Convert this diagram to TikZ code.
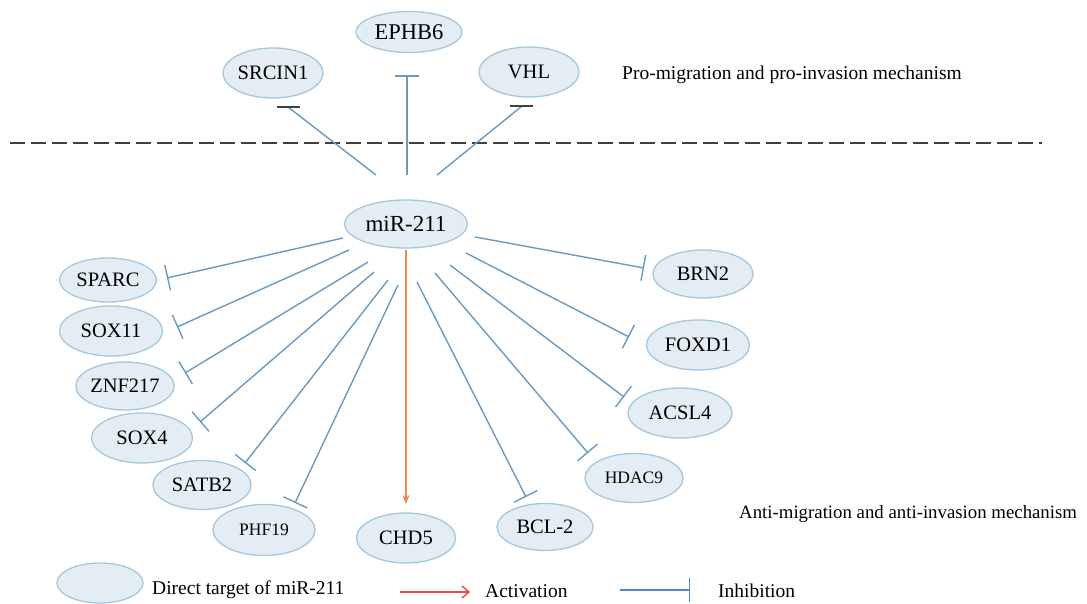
\documentclass[tikz,border=0pt]{standalone}
\usepackage{fontspec}
\setmainfont{Liberation Serif}
\usetikzlibrary{shapes.geometric,arrows.meta,calc}
\definecolor{efill}{HTML}{E5EDF4}
\definecolor{edraw}{HTML}{A6C8DC}
\definecolor{lblue}{HTML}{6A9AC2}
\definecolor{orng}{HTML}{EE8A4A}
\definecolor{legred}{HTML}{E8484A}
\definecolor{legblue}{HTML}{4B8BCB}
\definecolor{dgray}{HTML}{404040}
\tikzset{
  gene/.style={ellipse, draw=edraw, fill=efill, line width=1.3pt, inner sep=0pt,
    minimum width=100pt, minimum height=48pt, font=\fontsize{20.5}{22}\selectfont},
  small/.style={font=\fontsize{17.5}{20}\selectfont},
  inh/.style={draw=lblue, line width=1.4pt, -{Bar[width=26pt]}},
  topline/.style={draw=lblue, line width=1.4pt},
  darkbar/.style={draw=dgray, line width=1.8pt},
  act/.style={draw=orng, line width=1.4pt, -{Stealth[length=9pt,width=7pt]}},
  lbl/.style={anchor=west, inner sep=0pt, font=\fontsize{19.5}{22}\selectfont}
}
\begin{document}
\begin{tikzpicture}[x=1pt,y=-1pt]
\useasboundingbox (0,0) rectangle (1087,604);
\fill[white] (0,0) rectangle (1087,604);

% dashed separator
\coordinate (dl) at (10,143);
\coordinate (dr) at (1042,143);
\draw[dgray, line width=1.8pt, dash pattern=on 15pt off 6pt] (dl) -- (dr);

% nodes
\node[gene, minimum width=123pt, minimum height=48pt, font=\fontsize{23}{26}\selectfont] (mir) at (406,224) {miR-211};
\node[gene, minimum width=106pt, minimum height=41pt, font=\fontsize{22.5}{24}\selectfont] (ephb6) at (409,32) {EPHB6};
\node[gene, minimum height=50pt] (srcin1) at (273,73) {SRCIN1};
\node[gene, minimum height=50pt] (vhl) at (529,72) {VHL};

\node[gene, minimum width=97pt, minimum height=44pt] (sparc) at (108,280) {SPARC};
\node[gene, minimum width=103pt, minimum height=50pt] (sox11) at (111,331) {SOX11};
\node[gene, minimum width=97pt, minimum height=48pt] (znf) at (125,386) {ZNF217};
\node[gene, minimum width=101pt, minimum height=50pt] (sox4) at (142,438) {SOX4};
\node[gene, minimum width=98pt, minimum height=49pt] (satb2) at (202,485) {SATB2};
\node[gene, small, minimum width=102pt, minimum height=51pt] (phf19) at (264,530) {PHF19};
\node[gene, minimum width=99pt, minimum height=50pt] (chd5) at (406,538) {CHD5};
\node[gene, minimum width=96pt, minimum height=47pt] (bcl2) at (545,527) {BCL-2};
\node[gene, small, minimum width=98pt, minimum height=49pt] (hdac9) at (634,478) {HDAC9};
\node[gene, minimum width=104pt, minimum height=50pt] (acsl4) at (680,413) {ACSL4};
\node[gene, minimum width=103pt, minimum height=50pt] (foxd1) at (698,345) {FOXD1};
\node[gene, minimum width=100pt, minimum height=48pt] (brn2) at (703,274) {BRN2};

% top connectors
\coordinate (t1s) at (376,175); \coordinate (t1e) at (288,107);
\coordinate (t2s) at (407,175); \coordinate (t2e) at (407,76);
\coordinate (t3s) at (437,175); \coordinate (t3e) at (522,106);
\draw[topline] (t1s) -- (t1e);
\draw[darkbar] ($(t1e)+(-11,0)$) -- ($(t1e)+(12,0)$);
\draw[topline] (t2s) -- (t2e);
\draw[topline] ($(t2e)+(-12,0)$) -- ($(t2e)+(12,0)$);
\draw[topline] (t3s) -- (t3e);
\draw[darkbar] ($(t3e)+(-12,0)$) -- ($(t3e)+(11,0)$);

% left fan
\coordinate (a1) at (343,238); \coordinate (b1) at (167,278);
\coordinate (a2) at (349,250); \coordinate (b2) at (177,327);
\coordinate (a3) at (368,262); \coordinate (b3) at (185,373);
\coordinate (a4) at (374,272); \coordinate (b4) at (200,422);
\coordinate (a5) at (388,280); \coordinate (b5) at (245,463);
\coordinate (a6) at (398,285); \coordinate (b6) at (295,503);
\draw[inh] (a1) -- (b1);
\draw[inh] (a2) -- (b2);
\draw[inh] (a3) -- (b3);
\draw[inh] (a4) -- (b4);
\draw[inh] (a5) -- (b5);
\draw[inh] (a6) -- (b6);

% right fan
\coordinate (c1) at (475,237); \coordinate (d1) at (644,268);
\coordinate (c2) at (466,253); \coordinate (d2) at (629,337);
\coordinate (c3) at (450,265); \coordinate (d3) at (624,397);
\coordinate (c4) at (435,273); \coordinate (d4) at (588,453);
\coordinate (c5) at (417,282); \coordinate (d5) at (526,497);
\draw[inh] (c1) -- (d1);
\draw[inh] (c2) -- (d2);
\draw[inh] (c3) -- (d3);
\draw[inh] (c4) -- (d4);
\draw[inh] (c5) -- (d5);

% activation
\coordinate (ms) at (406,250);
\coordinate (me) at (406,504);
\draw[act] (ms) -- (me);

% labels
\node[lbl] (pro) at (622,75) {Pro-migration and pro-invasion mechanism};
\node[lbl, font=\fontsize{18.8}{22}\selectfont] (anti) at (739,514) {Anti-migration and anti-invasion mechanism};

% legend
\node[gene, minimum width=86pt, minimum height=40pt] (leg) at (100,583) {};
\node[lbl] (legt) at (152,590) {Direct target of miR-211};
\coordinate (la1) at (400,592); \coordinate (la2) at (470,592);
\draw[legred, line width=1.4pt, -{Straight Barb[length=7pt,width=12pt]}] (la1) -- (la2);
\node[lbl] (legact) at (485,591) {Activation};
\coordinate (li1) at (620,590); \coordinate (li2) at (690,590);
\draw[legblue, line width=1.4pt, -{Bar[width=24pt]}] (li1) -- (li2);
\node[lbl] (leginh) at (718,591) {Inhibition};
\end{tikzpicture}
\end{document}
